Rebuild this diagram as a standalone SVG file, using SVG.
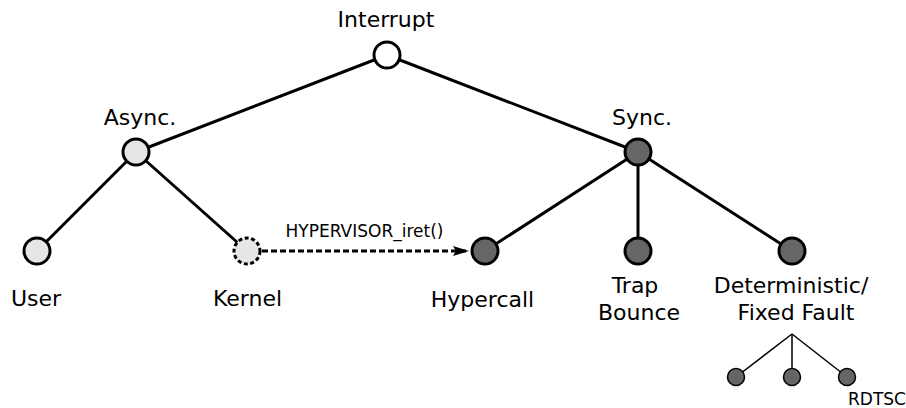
<svg xmlns="http://www.w3.org/2000/svg" width="906" height="408" viewBox="0 0 906 408">
  <style>
    .lbl { font-family: "DejaVu Sans", sans-serif; font-size: 22px; fill: #000; text-anchor: middle; }
    .small { font-family: "DejaVu Sans", sans-serif; font-size: 17px; fill: #000; text-anchor: middle; }
    .edge { stroke: #000; stroke-width: 3; fill: none; }
    .thin { stroke: #000; stroke-width: 1.5; fill: none; }
    .node { stroke: #000; stroke-width: 3; }
    .light { fill: #e6e6e6; }
    .dark { fill: #666666; }
    .white { fill: #ffffff; }
    .leaf { fill: #666666; stroke: #000; stroke-width: 1.5; }
  </style>
  <defs>
    <marker id="arrow" markerWidth="16" markerHeight="10" refX="16" refY="5" orient="auto" markerUnits="userSpaceOnUse">
      <path d="M0,0 L16,5 L0,10 L3,5 Z" fill="#000"/>
    </marker>
  </defs>
  <rect width="906" height="408" fill="#fff"/>

  <g id="connectors">
    <line class="edge" x1="387" y1="55" x2="136" y2="152"/>
    <line class="edge" x1="387" y1="55" x2="638" y2="152"/>
    <line class="edge" x1="136" y1="152" x2="37" y2="251"/>
    <line class="edge" x1="136" y1="152" x2="247" y2="251"/>
    <line class="edge" x1="638" y1="152" x2="485" y2="251"/>
    <line class="edge" x1="638" y1="152" x2="638" y2="251"/>
    <line class="edge" x1="638" y1="152" x2="792" y2="251"/>
    <line class="edge" x1="262" y1="251" x2="469" y2="251" stroke-dasharray="6,3" marker-end="url(#arrow)"/>
    <text class="small" x="364.5" y="237">HYPERVISOR_iret()</text>
    <line class="thin" x1="792" y1="334" x2="736" y2="377"/>
    <line class="thin" x1="792" y1="334" x2="792" y2="377"/>
    <line class="thin" x1="792" y1="334" x2="847" y2="377"/>
  </g>

  <g id="interrupt">
    <circle class="node white" cx="387" cy="55" r="13"/>
    <text class="lbl" x="386" y="27">Interrupt</text>
  </g>
  <g id="async">
    <circle class="node light" cx="136" cy="152" r="13"/>
    <text class="lbl" x="140" y="125">Async.</text>
  </g>
  <g id="sync">
    <circle class="node dark" cx="638" cy="152" r="13"/>
    <text class="lbl" x="642" y="125">Sync.</text>
  </g>
  <g id="user">
    <circle class="node light" cx="37" cy="251" r="13"/>
    <text class="lbl" x="36" y="306">User</text>
  </g>
  <g id="kernel">
    <circle class="node light" cx="247" cy="251" r="13" stroke-dasharray="4,2.5"/>
    <text class="lbl" x="247.5" y="306">Kernel</text>
  </g>
  <g id="hypercall">
    <circle class="node dark" cx="485" cy="251" r="13"/>
    <text class="lbl" x="482.5" y="307">Hypercall</text>
  </g>
  <g id="trap-bounce">
    <circle class="node dark" cx="638" cy="251" r="13"/>
    <text class="lbl" x="635" y="293">Trap</text>
    <text class="lbl" x="639" y="320">Bounce</text>
  </g>
  <g id="fixed-fault">
    <circle class="node dark" cx="792" cy="251" r="13"/>
    <text class="lbl" x="791" y="293">Deterministic/</text>
    <text class="lbl" x="796" y="320">Fixed Fault</text>
  </g>
  <g id="leaf-1">
    <circle class="leaf" cx="736" cy="377" r="8.5"/>
  </g>
  <g id="leaf-2">
    <circle class="leaf" cx="792" cy="377" r="8.5"/>
  </g>
  <g id="leaf-rdtsc">
    <circle class="leaf" cx="847" cy="377" r="8.5"/>
    <text class="small" x="877" y="405">RDTSC</text>
  </g>
</svg>
